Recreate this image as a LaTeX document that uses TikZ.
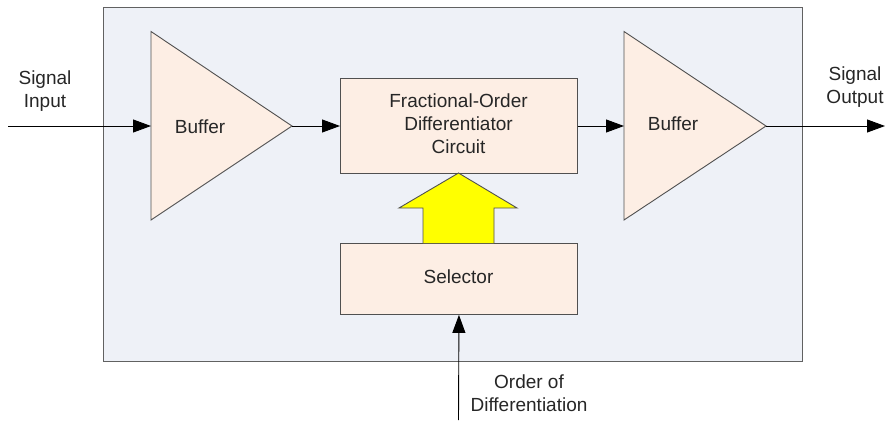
\documentclass[tikz,border=0pt]{standalone}
\usepackage{fontspec}
\setmainfont{Liberation Sans}
\usetikzlibrary{arrows.meta}
\definecolor{panel}{HTML}{EEF1F7}
\definecolor{blockfill}{HTML}{FDEEE4}
\definecolor{edge}{HTML}{505050}
\definecolor{bigarrow}{HTML}{FFFF00}
\tikzset{
  blockbox/.style={draw=edge, fill=blockfill, line width=0.9pt, inner sep=0pt, anchor=north west},
  amp/.style={draw=edge, fill=blockfill, line width=0.9pt, line join=miter},
  label/.style={font=\fontsize{19}{23}\selectfont, align=center, text=black!85},
  signal/.style={draw=black, line width=0.9pt, -{Triangle[length=18pt,width=13pt]}},
}
\begin{document}
\begin{tikzpicture}[x=1pt, y=-1pt]
  \useasboundingbox (0,0) rectangle (885,420);

  % enclosing panel
  \draw[draw=edge!90, fill=panel, line width=0.9pt] (103,7.5) rectangle (802,361);

  % input buffer
  \draw[amp] (151,31.5) -- (292,126) -- (151,220) -- cycle;
  \coordinate (bufinA) at (151,126);
  \coordinate (bufoutA) at (292,126);
  \node[label] (bufA) at (200,127) {Buffer};

  % output buffer
  \draw[amp] (624,31.5) -- (766,126) -- (624,220) -- cycle;
  \coordinate (bufinB) at (624,126);
  \coordinate (bufoutB) at (766,126);
  \node[label] (bufB) at (673,124) {Buffer};

  % differentiator and selector blocks
  \node[blockbox, minimum width=237pt, minimum height=95pt] (diff) at (340,78) {};
  \node[label] (difftext) at (458.5,124) {Fractional-Order\\Differentiator\\Circuit};
  \node[blockbox, minimum width=237pt, minimum height=71pt] (sel) at (340,243) {};
  \node[label] (seltext) at (458.5,277) {Selector};

  % wide control arrow from selector to differentiator
  \draw[draw=edge, fill=bigarrow, line width=0.9pt, line join=miter]
    (423,243) -- (423,208) -- (399,208) -- (458.5,173) -- (517,208) -- (494,208) -- (494,243);

  % signal path
  \coordinate (inStart) at (8,126);
  \coordinate (outEnd) at (885,126);
  \coordinate (orderStart) at (458.5,420);
  \draw[signal] (inStart) -- (bufinA);
  \draw[signal] (bufoutA) -- (diff.west |- bufoutA);
  \draw[signal] (diff.east |- bufinB) -- (bufinB);
  \draw[signal] (bufoutB) -- (outEnd);
  \draw[signal] (orderStart) -- (sel.south);

  % external labels
  \node[label] (inlabel) at (45,91) {Signal\\Input};
  \node[label] (outlabel) at (855,87) {Signal\\Output};
  \node[label] (orderlabel) at (529,393) {Order of\\Differentiation};
\end{tikzpicture}
\end{document}
